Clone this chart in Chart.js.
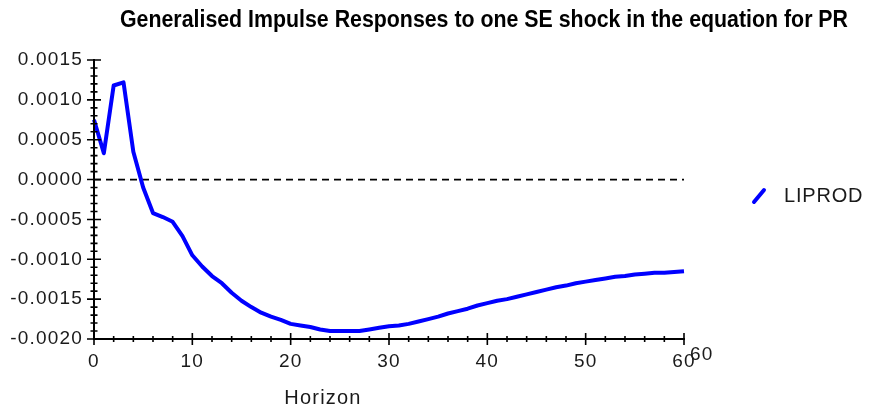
<!DOCTYPE html>
<html>
<head>
<meta charset="utf-8">
<script src="https://cdn.jsdelivr.net/npm/chart.js@4.4.1/dist/chart.umd.min.js"></script>
<style>
  html, body { margin: 0; padding: 0; background: #ffffff; }
  #wrap { width: 869px; height: 412px; position: relative; }
</style>
</head>
<body>
<div id="wrap"><canvas id="c" width="869" height="412"></canvas></div>
<script>
const chartTitle = "Generalised Impulse Responses to one SE shock in the equation for PR";
const xAxisTitle = "Horizon";
const seriesName = "LIPROD";
const horizon = [];
for (let h = 0; h <= 60; h++) horizon.push(h);
const liprod = [
  0.00075, 0.00033, 0.00118, 0.00122, 0.00035, -0.00010, -0.00042, -0.00047, -0.00053, -0.00071,
  -0.00095, -0.00109, -0.00121, -0.00130, -0.00142, -0.00152, -0.00160, -0.00167, -0.00172, -0.00176,
  -0.00181, -0.00183, -0.00185, -0.00188, -0.00190, -0.00190, -0.00190, -0.00190, -0.00188, -0.00186,
  -0.00184, -0.00183, -0.00181, -0.00178, -0.00175, -0.00172, -0.00168, -0.00165, -0.00162, -0.00158,
  -0.00155, -0.00152, -0.00150, -0.00147, -0.00144, -0.00141, -0.00138, -0.00135, -0.00133, -0.00130,
  -0.00128, -0.00126, -0.00124, -0.00122, -0.00121, -0.00119, -0.00118, -0.00117, -0.00117, -0.00116,
  -0.00115
];
const yTicks = [-0.0020, -0.0015, -0.0010, -0.0005, 0.0000, 0.0005, 0.0010, 0.0015];
const xTicks = [0, 10, 20, 30, 40, 50, 60];

const FONT = "'Liberation Sans', Arial, sans-serif";
const TEXT = '#1a1a1a';

const spacing = {
  id: 'spacing',
  beforeDraw(chart) { chart.ctx.letterSpacing = '1.2px'; },
  afterDatasetsDraw(chart) { chart.ctx.letterSpacing = '0px'; }
};

const decor = {
  id: 'decor',
  afterDraw(chart) {
    const ctx = chart.ctx;
    const xs = chart.scales.x, ys = chart.scales.y;
    const ax = xs.getPixelForValue(0), ay = ys.getPixelForValue(yTicks[0]);
    const xr = xs.getPixelForValue(60), yt = ys.getPixelForValue(yTicks[yTicks.length - 1]);
    ctx.save();
    ctx.letterSpacing = '0px';
    ctx.strokeStyle = '#000';
    ctx.lineWidth = 2;
    ctx.beginPath();
    ctx.moveTo(ax, yt - 1); ctx.lineTo(ax, ay);
    ctx.lineTo(xr + 1, ay);
    ctx.stroke();
    ctx.lineWidth = 1.6;
    ctx.beginPath();
    for (let i = -20; i <= 15; i++) {
      const y = ys.getPixelForValue(i * 0.0001);
      const L = (i % 5 === 0) ? 7 : 3.5;
      ctx.moveTo(ax - L, y); ctx.lineTo(ax + L, y);
    }
    for (let i = 0; i <= 60; i += 2) {
      const x = xs.getPixelForValue(i);
      const L = (i % 10 === 0) ? 6 : 3;
      ctx.moveTo(x, ay - L); ctx.lineTo(x, ay + L);
    }
    ctx.stroke();

    // title
    ctx.fillStyle = '#000';
    ctx.font = "bold 23px 'Liberation Sans', Arial, sans-serif";
    ctx.textBaseline = 'middle';
    ctx.textAlign = 'left';
    const tw = ctx.measureText(chartTitle).width;
    const target = 728;
    ctx.save();
    ctx.translate(120, 21);
    ctx.scale(target / tw, 1);
    ctx.fillText(chartTitle, 0, 0);
    ctx.restore();

    ctx.letterSpacing = '1.2px';
    // x axis title
    ctx.fillStyle = TEXT;
    ctx.font = "20px " + FONT;
    ctx.textAlign = 'center';
    ctx.fillText(xAxisTitle, 323, 398);

    // stray 60 label
    ctx.font = "19px " + FONT;
    ctx.textAlign = 'left';
    ctx.fillText('60', 690, 355);

    // legend
    ctx.strokeStyle = '#0000ff';
    ctx.lineWidth = 4;
    ctx.lineCap = 'round';
    ctx.beginPath();
    ctx.moveTo(754, 202); ctx.lineTo(764, 190);
    ctx.stroke();
    ctx.fillStyle = TEXT;
    ctx.font = "20px " + FONT;
    ctx.letterSpacing = '0.8px';
    ctx.textAlign = 'left';
    ctx.fillText(seriesName, 784, 196);
    ctx.restore();
  }
};

new Chart(document.getElementById('c'), {
  type: 'line',
  data: {
    datasets: [
      {
        label: seriesName,
        data: horizon.map((h, i) => ({ x: h, y: liprod[i] })),
        borderColor: '#0000ff',
        borderWidth: 4,
        pointRadius: 0,
        tension: 0,
        clip: false,
        borderJoinStyle: 'round'
      },
      {
        label: 'zero',
        data: [{ x: 0, y: 0 }, { x: 60, y: 0 }],
        borderColor: '#000',
        borderWidth: 1.8,
        borderDash: [7, 5],
        pointRadius: 0,
        clip: false
      }
    ]
  },
  options: {
    responsive: false,
    animation: false,
    events: [],
    layout: { padding: { left: 0, right: 185, top: 60, bottom: 0 } },
    plugins: { legend: { display: false }, title: { display: false }, tooltip: { enabled: false } },
    scales: {
      x: {
        type: 'linear', min: 0, max: 60,
        afterFit: s => { s.height = 73; },
        afterBuildTicks: s => { s.ticks = xTicks.map(v => ({ value: v })); },
        grid: { display: false },
        border: { display: false },
        ticks: { color: TEXT, font: { family: FONT, size: 19 }, padding: 3, maxRotation: 0, autoSkip: false }
      },
      y: {
        type: 'linear', min: -0.002, max: 0.0015,
        afterFit: s => { s.width = 94; },
        afterBuildTicks: s => { s.ticks = yTicks.map(v => ({ value: v })); },
        grid: { display: false },
        border: { display: false },
        ticks: { color: TEXT, font: { family: FONT, size: 19 }, padding: 3, callback: v => v.toFixed(4) }
      }
    }
  },
  plugins: [spacing, decor]
});
</script>
</body>
</html>
